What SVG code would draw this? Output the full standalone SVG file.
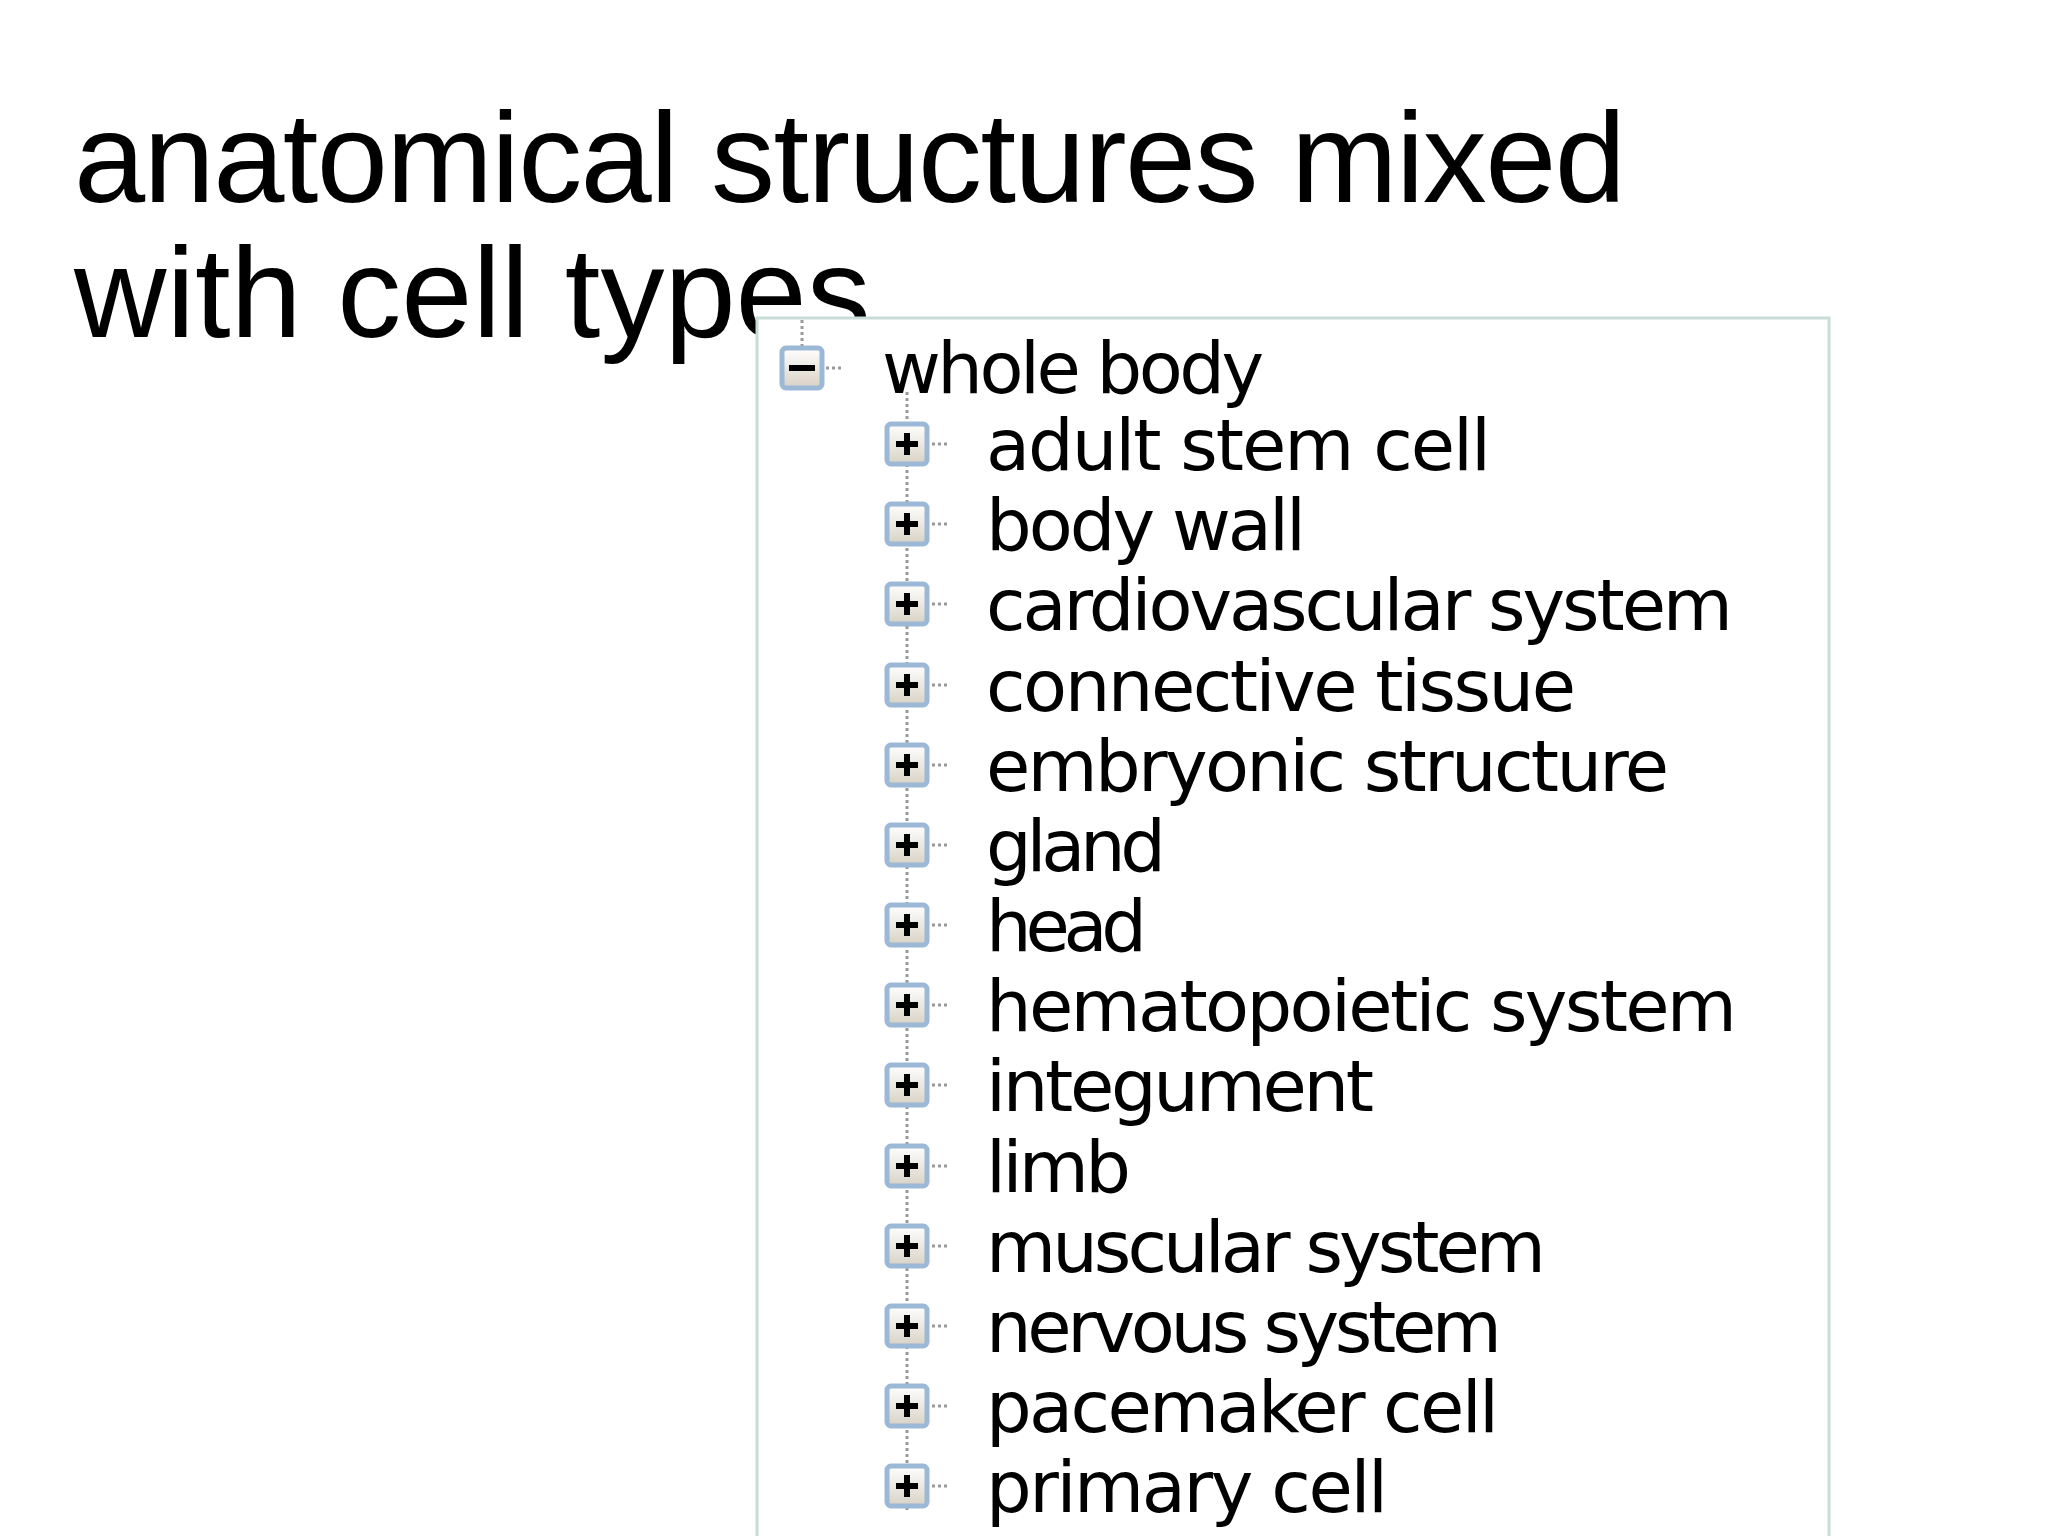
<svg xmlns="http://www.w3.org/2000/svg" width="2048" height="1536" viewBox="0 0 2048 1536">
<style>
.t{font-family:"Liberation Sans",Arial,sans-serif;font-size:128px;fill:#000}
.n{font-family:"DejaVu Sans",Verdana,sans-serif;font-size:72px;fill:#000}
.dot{stroke:#999;stroke-width:3;stroke-dasharray:3 3;fill:none}
</style>
<defs>
<linearGradient id="g" x1="0" y1="0" x2="0" y2="1"><stop offset="0" stop-color="#fff"/><stop offset="1" stop-color="#d8d2c4"/></linearGradient>
<g id="plus"><rect x="-20" y="-20" width="40" height="40" rx="4" fill="url(#g)" stroke="#9bb8d6" stroke-width="5"/><path d="M-11 0H11M0 -11V11" stroke="#000" stroke-width="6"/></g>
<g id="minus"><rect x="-20" y="-20" width="40" height="40" rx="4" fill="url(#g)" stroke="#9bb8d6" stroke-width="5"/><path d="M-13 0H13" stroke="#000" stroke-width="6"/></g>
</defs>
<rect width="2048" height="1536" fill="#fff"/>
<text class="t" x="74" y="202" textLength="1552">anatomical structures mixed</text>
<text class="t" x="74" y="337">with cell types</text>
<rect x="757" y="318" width="1072" height="1230" fill="#fff" stroke="#c8dcd8" stroke-width="3"/>
<g id="connectors">
<path class="dot" d="M802 320V346M907 392V1510M826 368H842"/>
<path class="dot" d="M932 444H950M932 524H950M932 604H950M932 685H950M932 765H950M932 845H950M932 925H950M932 1005H950M932 1085H950M932 1166H950M932 1246H950M932 1326H950M932 1406H950M932 1486H950"/>
</g>
<g id="whole-body"><use href="#minus" x="802" y="368"/><text class="n" x="882" y="393" textLength="382">whole body</text></g>
<g id="n1"><use href="#plus" x="907" y="444"/><text class="n" x="986" y="470" textLength="505">adult stem cell</text></g>
<g id="n2"><use href="#plus" x="907" y="524"/><text class="n" x="986" y="550" textLength="320">body wall</text></g>
<g id="n3"><use href="#plus" x="907" y="604"/><text class="n" x="986" y="630" textLength="747">cardiovascular system</text></g>
<g id="n4"><use href="#plus" x="907" y="685"/><text class="n" x="986" y="711" textLength="590">connective tissue</text></g>
<g id="n5"><use href="#plus" x="907" y="765"/><text class="n" x="986" y="791" textLength="683">embryonic structure</text></g>
<g id="n6"><use href="#plus" x="907" y="845"/><text class="n" x="986" y="871" textLength="180">gland</text></g>
<g id="n7"><use href="#plus" x="907" y="925"/><text class="n" x="986" y="951" textLength="161">head</text></g>
<g id="n8"><use href="#plus" x="907" y="1005"/><text class="n" x="986" y="1031" textLength="751">hematopoietic system</text></g>
<g id="n9"><use href="#plus" x="907" y="1085"/><text class="n" x="986" y="1111" textLength="388">integument</text></g>
<g id="n10"><use href="#plus" x="907" y="1166"/><text class="n" x="986" y="1192" textLength="145">limb</text></g>
<g id="n11"><use href="#plus" x="907" y="1246"/><text class="n" x="986" y="1272" textLength="560">muscular system</text></g>
<g id="n12"><use href="#plus" x="907" y="1326"/><text class="n" x="986" y="1352" textLength="516">nervous system</text></g>
<g id="n13"><use href="#plus" x="907" y="1406"/><text class="n" x="986" y="1432" textLength="513">pacemaker cell</text></g>
<g id="n14"><use href="#plus" x="907" y="1486"/><text class="n" x="986" y="1512" textLength="402">primary cell</text></g>
</svg>
